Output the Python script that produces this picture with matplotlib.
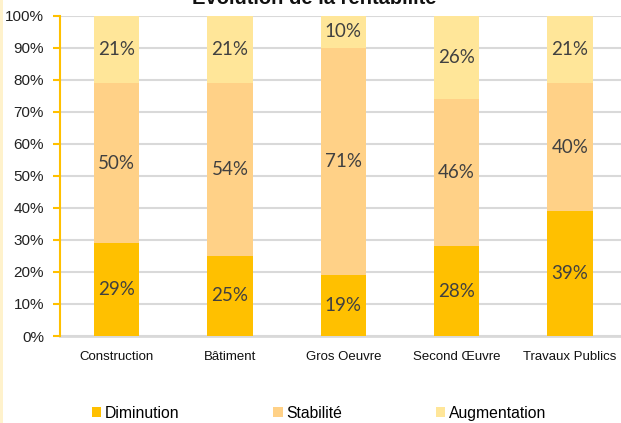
import numpy as np
import matplotlib.pyplot as plt
from matplotlib.patches import Patch, Rectangle

categories = ["Construction", "Bâtiment", "Gros Oeuvre", "Second Œuvre", "Travaux Publics"]
diminution = [29, 25, 19, 28, 39]
stabilite = [50, 54, 71, 46, 40]
augmentation = [21, 21, 10, 26, 21]
series_names = ["Diminution", "Stabilité", "Augmentation"]
colors = ["#FFC000", "#FFD187", "#FFE699"]

fig = plt.figure(figsize=(6.21, 4.23), dpi=100)
ax = fig.add_axes([60 / 621, 1 - 336 / 423, 1 - 60 / 621, (336 - 15.7) / 423])

x = np.arange(len(categories))
bottom = np.zeros(len(categories))
for vals, col, name in zip([diminution, stabilite, augmentation], colors, series_names):
    vals = np.array(vals, dtype=float)
    ax.bar(x, vals, width=0.4, bottom=bottom, color=col, zorder=2, label=name)
    for xi, b, v in zip(x, bottom, vals):
        ax.text(xi, b + v / 2, f"{int(v)}%", ha="center", va="center",
                fontsize=13.5, family="Lato", color="#404040", zorder=3)
    bottom += vals

ax.set_xlim(-0.5, 4.45)
ax.set_ylim(0, 100)
ax.set_yticks(np.arange(0, 101, 10))
ax.set_yticklabels([f"{v}%" for v in range(0, 101, 10)])
ax.set_xticks(x)
ax.set_xticklabels(categories)
ax.grid(axis="y", color="#D9D9D9", linewidth=1.5, zorder=0)

for s in ["top", "right"]:
    ax.spines[s].set_visible(False)
ax.spines["left"].set_color("#FFC000")
ax.spines["left"].set_linewidth(1.5)
ax.spines["bottom"].set_color("#D9D9D9")
ax.spines["bottom"].set_linewidth(2)
ax.spines["bottom"].set_zorder(1)

ax.tick_params(axis="y", colors="#FFC000", length=5, width=1.5, pad=6.5,
               labelsize=11, labelcolor="#222222")
ax.tick_params(axis="x", length=0, pad=11, labelsize=9.5, labelcolor="#111111")
for lab in ax.get_xticklabels() + ax.get_yticklabels():
    lab.set_family("Liberation Sans")

fig.text(314 / 621, 1 - 4 / 423, "Évolution de la rentabilité", ha="center", va="baseline",
         fontsize=14.5, fontweight="bold", family="Liberation Sans", color="#111111")

handles = [Patch(facecolor=c, edgecolor="none") for c in colors]
fig.legend(handles, series_names, loc="center left", bbox_to_anchor=(92 / 621, 1 - 413 / 423),
           ncol=3, frameon=False, borderpad=0, borderaxespad=0, handlelength=0.6,
           handleheight=0.6, handletextpad=0.2, columnspacing=6.0,
           prop={"family": "Liberation Sans", "size": 11.3})

fig.patches.append(Rectangle((0, 0), 2.5 / 621, 1, transform=fig.transFigure,
                             facecolor="#FFF2CC", edgecolor="none"))

fig.savefig("out.png", dpi=100)
